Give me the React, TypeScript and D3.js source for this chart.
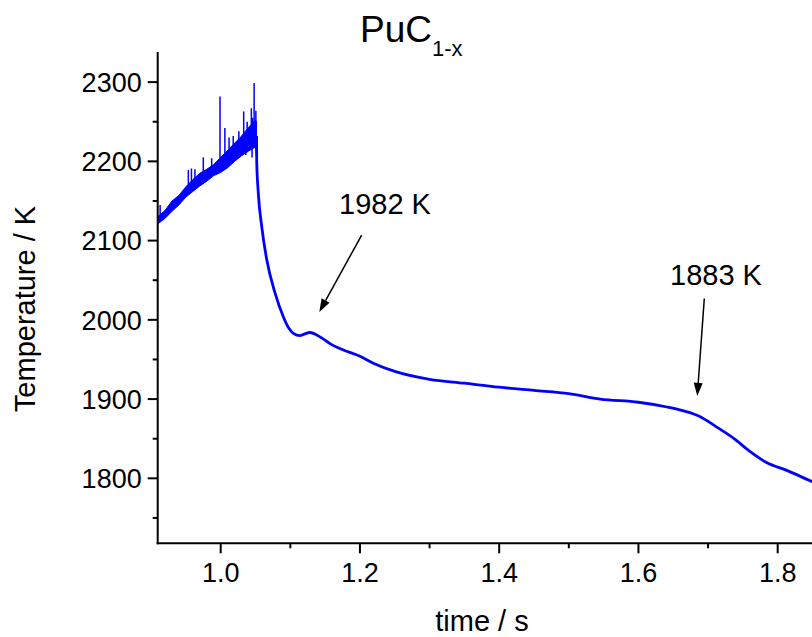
import React from "react";
import * as d3 from "d3";

// Noisy heating segment: envelope of the dense signal
const bandTime = [0.9095, 0.92, 0.93, 0.94, 0.95, 0.96, 0.97, 0.98, 0.99, 1.0, 1.01, 1.02, 1.03, 1.04, 1.05, 1.0515];
const bandLow = [2121, 2128, 2137, 2145, 2155, 2162, 2169, 2175, 2182, 2186, 2192, 2200, 2207, 2213, 2218, 2205];
const bandHigh = [2130, 2138, 2150, 2157, 2168, 2177, 2185, 2190, 2196, 2205, 2214, 2223, 2232, 2243, 2252, 2250];

// Spikes in the noisy segment
const spikeTime = [0.913, 0.9535, 0.958, 0.963, 0.975, 0.987, 0.999, 1.006, 1.012, 1.018, 1.026, 1.033, 1.038, 1.044, 1.046, 1.048, 1.0505, 1.036, 1.045];
const spikeTemp = [2145, 2189, 2191, 2190, 2205, 2204, 2282, 2242, 2230, 2232, 2238, 2263, 2250, 2267, 2255, 2299, 2264, 2208, 2205];

// Cooling curve
const decayTime = [1.0515, 1.0517, 1.054, 1.0589, 1.0661, 1.078, 1.0899, 1.0975, 1.1043, 1.1139, 1.12, 1.1283, 1.1379, 1.147, 1.157, 1.1761, 1.2001, 1.22, 1.25, 1.3, 1.35, 1.4, 1.45, 1.5, 1.545, 1.6, 1.641, 1.665, 1.688, 1.712, 1.736, 1.76, 1.784, 1.813, 1.849, 1.87];
const decayTemp = [2232, 2200, 2160, 2118, 2076, 2034, 2004, 1990, 1983, 1980, 1982, 1984, 1981, 1976, 1970, 1962, 1954, 1945, 1935, 1925, 1920, 1915, 1911, 1907, 1900, 1896, 1890, 1885, 1878, 1865, 1851, 1834, 1820, 1810, 1796, 1788];

const xMajorTicks = [1.0, 1.2, 1.4, 1.6, 1.8];
const xMinorTicks = [1.1, 1.3, 1.5, 1.7];
const yMajorTicks = [1800, 1900, 2000, 2100, 2200, 2300];
const yMinorTicks = [1750, 1850, 1950, 2050, 2150, 2250];

const annLabels = ["1982 K", "1883 K"];
const annLabelTime = [1.236, 1.7114];
const annLabelTemp = [2134, 2044];
const annFromTime = [1.2025, 1.6946];
const annFromTemp = [2107, 2027];
const annToTime = [1.1416, 1.6845];
const annToTemp = [2010, 1904];

const FONT = "'Liberation Sans', Arial, Helvetica, sans-serif";

export default function App() {
  const W = 812, H = 637;
  const x = d3.scaleLinear().domain([0.9095, 1.9]).range([157.7, 847.3]);
  const y = d3.scaleLinear().domain([1718, 2338]).range([543.3, 52]);
  const blue = "#0000ff";

  const area = d3
    .area<number>()
    .x((_, i) => x(bandTime[i]))
    .y0((_, i) => y(bandLow[i]))
    .y1((_, i) => y(bandHigh[i]))
    .curve(d3.curveLinear);

  const line = d3
    .line<number>()
    .x((_, i) => x(decayTime[i]))
    .y((_, i) => y(decayTemp[i]))
    .curve(d3.curveMonotoneX);

  const bandMid = (t: number) => {
    const lo = d3.scaleLinear().domain(bandTime).range(bandLow).clamp(true)(t);
    const hi = d3.scaleLinear().domain(bandTime).range(bandHigh).clamp(true)(t);
    return (lo + hi) / 2;
  };

  const x0 = x.range()[0];
  const yBottom = y.range()[0];
  const yTop = y.range()[1];

  return (
    <svg
      width={W}
      height={H}
      style={{ position: "absolute", left: 0, top: 0, background: "#fff" }}
      fontFamily={FONT}
    >
      <rect x={0} y={0} width={W} height={H} fill="#fff" />
      {/* Title */}
      <text x={360} y={42} fontSize={37} fill="#000">
        PuC
        <tspan fontSize={22} dy={14}>1-x</tspan>
      </text>

      {/* data */}
      <path d={area(bandTime) || ""} fill={blue} stroke={blue} strokeWidth={1} />
      {spikeTime.map((t, i) => (
        <line
          key={"s" + i}
          x1={x(t)}
          x2={x(t)}
          y1={y(bandMid(t))}
          y2={y(spikeTemp[i])}
          stroke={blue}
          strokeWidth={1.5}
        />
      ))}
      <path d={line(decayTime) || ""} fill="none" stroke={blue} strokeWidth={2.8} />

      {/* Axes */}
      <line x1={x0} x2={x0} y1={yTop} y2={yBottom + 1} stroke="#000" strokeWidth={2} />
      <line x1={x0 - 1} x2={W + 10} y1={yBottom} y2={yBottom} stroke="#000" strokeWidth={2} />
      {yMajorTicks.map((v) => (
        <g key={"ym" + v}>
          <line x1={x0 - 10} x2={x0} y1={y(v)} y2={y(v)} stroke="#000" strokeWidth={2} />
          <text x={x0 - 16} y={y(v)} dy="0.36em" textAnchor="end" fontSize={27} fill="#000">
            {v}
          </text>
        </g>
      ))}
      {yMinorTicks.map((v) => (
        <line key={"yn" + v} x1={x0 - 5} x2={x0} y1={y(v)} y2={y(v)} stroke="#000" strokeWidth={2} />
      ))}
      {xMajorTicks.map((v) => (
        <g key={"xm" + v}>
          <line x1={x(v)} x2={x(v)} y1={yBottom} y2={yBottom + 10} stroke="#000" strokeWidth={2} />
          <text x={x(v)} y={582} textAnchor="middle" fontSize={27} fill="#000">
            {v.toFixed(1)}
          </text>
        </g>
      ))}
      {xMinorTicks.map((v) => (
        <line key={"xn" + v} x1={x(v)} x2={x(v)} y1={yBottom} y2={yBottom + 5} stroke="#000" strokeWidth={2} />
      ))}

      {/* Axis titles */}
      <text x={482} y={631} textAnchor="middle" fontSize={29} fill="#000">
        time / s
      </text>
      <text
        transform={`translate(35,309) rotate(-90)`}
        textAnchor="middle"
        fontSize={29}
        fill="#000"
      >
        Temperature / K
      </text>

      {/* Annotations */}
      {annLabels.map((lab, i) => {
        const x1 = x(annFromTime[i]);
        const y1 = y(annFromTemp[i]);
        const x2 = x(annToTime[i]);
        const y2 = y(annToTemp[i]);
        const ang = Math.atan2(y2 - y1, x2 - x1);
        const L = 13, Wd = 4.5;
        const bx = x2 - L * Math.cos(ang);
        const by = y2 - L * Math.sin(ang);
        const px = -Math.sin(ang) * Wd;
        const py = Math.cos(ang) * Wd;
        return (
          <g key={"a" + i}>
            <text x={x(annLabelTime[i])} y={y(annLabelTemp[i])} textAnchor="middle" fontSize={29} fill="#000">
              {lab}
            </text>
            <line x1={x1} y1={y1} x2={bx} y2={by} stroke="#000" strokeWidth={1.5} />
            <polygon points={`${x2},${y2} ${bx + px},${by + py} ${bx - px},${by - py}`} fill="#000" />
          </g>
        );
      })}
    </svg>
  );
}
